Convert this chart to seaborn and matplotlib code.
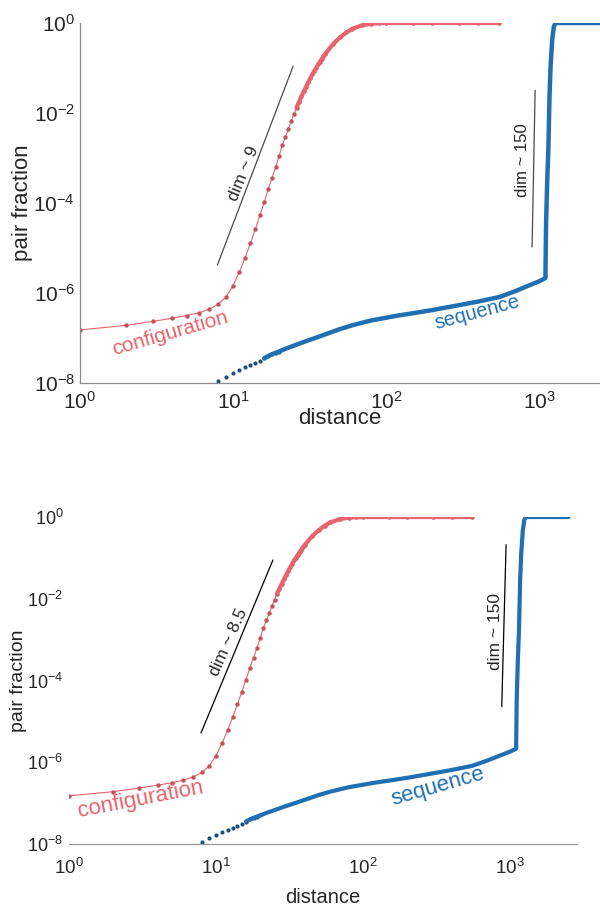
import numpy as np
import pandas as pd
import matplotlib
matplotlib.use("Agg")
import matplotlib.pyplot as plt
import matplotlib.ticker as mticker
import seaborn as sns

# === Daten ===

config_dist = list(range(1, 41)) + [45, 50, 55, 60, 70, 80, 90, 100, 150, 200, 300, 400, 550]
config_frac = [
    1.51e-7, 1.91e-7, 2.34e-7, 2.75e-7, 3.16e-7, 3.63e-7, 4.37e-7, 5.62e-7, 8.13e-7, 1.45e-6,
    2.95e-6, 6.03e-6, 1.29e-5, 2.63e-5, 5.37e-5, 1.05e-4, 2.04e-4, 3.63e-4, 6.31e-4, 1.10e-3,
    1.95e-3, 2.95e-3, 4.37e-3, 6.61e-3, 9.55e-3, 1.32e-2, 1.78e-2, 2.34e-2, 3.02e-2, 3.80e-2,
    4.79e-2, 5.89e-2, 7.24e-2, 8.71e-2, 0.102, 0.120, 0.138, 0.158, 0.182, 0.204,
    0.339, 0.479, 0.617, 0.741, 0.891, 0.966, 0.989, 0.997, 1.0, 1.0, 1.0, 1.0, 1.0,
]

seq_dist = [8, 9, 10, 11, 12, 13, 14, 15, 16, 17, 18, 19, 20, 22, 25, 30, 35, 40, 50, 60,
            70, 80, 100, 120, 150, 200, 300, 400, 550, 700, 850, 1000, 1100, 1110, 1130,
            1150, 1170, 1190, 1220, 1250, 1280, 1500, 2000, 2500]
seq_frac = [1.10e-8, 1.38e-8, 1.70e-8, 1.95e-8, 2.24e-8, 2.51e-8, 2.82e-8, 3.16e-8, 3.55e-8,
            3.98e-8, 4.37e-8, 4.68e-8, 5.01e-8, 5.75e-8, 6.76e-8, 8.51e-8, 1.02e-7, 1.20e-7,
            1.58e-7, 1.91e-7, 2.19e-7, 2.45e-7, 2.82e-7, 3.16e-7, 3.55e-7, 4.17e-7, 5.37e-7,
            6.46e-7, 8.13e-7, 1.10e-6, 1.45e-6, 1.82e-6, 2.14e-6, 3.2e-5, 3.2e-4, 1.6e-3,
            2.5e-2, 0.12, 0.45, 0.85, 1.0, 1.0, 1.0, 1.0]

# Hilfslinien (Steigung = Dimension)
guide_top_conf_x = [7.9, 24.7]
guide_top_conf_y = [4.17e-6, 0.11]
guide_top_seq_x = [900, 942]
guide_top_seq_y = [1.05e-5, 0.032]
guide_bot_conf_x = [7.9, 24.4]
guide_bot_conf_y = [5.2e-6, 0.089]
guide_bot_seq_x = [878, 940]
guide_bot_seq_y = [2.3e-5, 0.21]

y_ticks = [1e-8, 1e-6, 1e-4, 1e-2, 1e0]
x_ticks = [1e0, 1e1, 1e2, 1e3]

RED = "#e8636b"
RED_DARK = "#c4525c"
BLUE = "#1f6fb2"
BLUE_DARK = "#1b4f7e"


def draw_panel(ax, df_conf, df_seq, lw_seq=3.2):
    # configuration: dünne Linie + Punkte, ab ~25 dichter -> dicke Linie
    sns.lineplot(data=df_conf, x="distance", y="fraction", ax=ax, color=RED,
                 linewidth=0.8, marker="o", markersize=3.2, markeredgewidth=0,
                 markerfacecolor=RED_DARK, sort=False)
    sns.lineplot(data=df_conf[df_conf["distance"] >= 26], x="distance", y="fraction",
                 ax=ax, color=RED, linewidth=3.0, sort=False)
    # sequence: Punkte am Anfang, danach dicke Linie
    sns.scatterplot(data=df_seq[df_seq["distance"] <= 20], x="distance", y="fraction",
                    ax=ax, color=BLUE_DARK, s=9, linewidth=0)
    sns.lineplot(data=df_seq[df_seq["distance"] >= 16], x="distance", y="fraction",
                 ax=ax, color=BLUE, linewidth=lw_seq, sort=False)


def main():
    sns.set_style("white")
    plt.rcParams["font.family"] = ["Liberation Sans", "DejaVu Sans"]
    plt.rcParams["mathtext.default"] = "regular"

    df_conf = pd.DataFrame({"distance": config_dist, "fraction": config_frac})
    df_seq = pd.DataFrame({"distance": seq_dist, "fraction": seq_frac})

    fig = plt.figure(figsize=(6, 9.05), dpi=100)

    # ---------- oberes Panel ----------
    ax1 = fig.add_axes([0.1333, 0.5768, 0.8667, 0.3978])
    draw_panel(ax1, df_conf, df_seq)
    ax1.set_xscale("log")
    ax1.set_yscale("log")
    ax1.set_xlim(1, 2500)
    ax1.set_ylim(1e-8, 1)
    ax1.set_yticks(y_ticks)
    ax1.set_xticks(x_ticks)
    ax1.yaxis.set_minor_locator(mticker.NullLocator())
    ax1.xaxis.set_minor_locator(mticker.LogLocator(base=10, subs=np.arange(2, 10)))
    for side in ["top", "right"]:
        ax1.spines[side].set_visible(False)
    for side in ["left", "bottom"]:
        ax1.spines[side].set_color("#8c8c8c")
        ax1.spines[side].set_linewidth(0.9)
    ax1.tick_params(which="both", direction="in", color="#8c8c8c", labelcolor="#262626",
                    labelsize=15)
    ax1.tick_params(which="major", length=5)
    ax1.tick_params(which="minor", length=2.5)
    ax1.tick_params(axis="x", pad=6)
    ax1.set_xlabel("distance", fontsize=16, color="#262626", labelpad=-4)
    ax1.set_ylabel("pair fraction", fontsize=16, color="#262626", labelpad=0)

    ax1.plot(guide_top_conf_x, guide_top_conf_y, color="#4a4a4a", linewidth=0.9)
    ax1.plot(guide_top_seq_x, guide_top_seq_y, color="#4a4a4a", linewidth=0.9)
    ax1.text(11.8, 4.6e-4, "dim ~ 9", rotation=68, ha="center", va="center",
             rotation_mode="anchor", fontsize=12.5, color="#262626")
    ax1.text(774, 9.1e-4, "dim ~ 150", rotation=90, ha="center", va="center",
             rotation_mode="anchor", fontsize=12, color="#262626")
    ax1.text(3.87, 1.29e-7, "configuration", rotation=16, ha="center", va="center",
             rotation_mode="anchor", fontsize=15, color=RED)
    ax1.text(393, 3.6e-7, "sequence", rotation=15, ha="center", va="center",
             rotation_mode="anchor", fontsize=14.5, color=BLUE)

    # ---------- unteres Panel ----------
    ax2 = fig.add_axes([0.115, 0.0674, 0.8467, 0.3613])
    draw_panel(ax2, df_conf, df_seq, lw_seq=3.0)
    ax2.set_xscale("log")
    ax2.set_yscale("log")
    ax2.set_xlim(1, 2855)
    ax2.set_ylim(1e-8, 1)
    ax2.set_yticks(y_ticks)
    ax2.set_xticks(x_ticks)
    ax2.yaxis.set_minor_locator(mticker.NullLocator())
    ax2.xaxis.set_minor_locator(mticker.LogLocator(base=10, subs=np.arange(2, 10)))
    for side in ["top", "right", "left"]:
        ax2.spines[side].set_visible(False)
    ax2.spines["bottom"].set_color("#9a9a9a")
    ax2.spines["bottom"].set_linewidth(0.9)
    ax2.tick_params(axis="y", direction="out", length=3, color="#555555",
                    labelcolor="#262626", labelsize=13, pad=1)
    ax2.tick_params(axis="x", which="both", direction="inout", color="#555555",
                    labelcolor="#262626", labelsize=13.5, pad=8)
    ax2.tick_params(axis="x", which="major", length=4)
    ax2.tick_params(axis="x", which="minor", length=2)
    ax2.set_xlabel("distance", fontsize=14.5, color="#262626", labelpad=7)
    ax2.set_ylabel("pair fraction", fontsize=14, color="#262626", labelpad=0)

    ax2.plot(guide_bot_conf_x, guide_bot_conf_y, color="black", linewidth=0.9)
    ax2.plot(guide_bot_seq_x, guide_bot_seq_y, color="black", linewidth=0.9)
    ax2.text(12.1, 8.7e-4, "dim ~ 8.5", rotation=66, ha="center", va="center",
             rotation_mode="anchor", fontsize=12.5, color="#262626")
    ax2.text(791, 1.55e-3, "dim ~ 150", rotation=90, ha="center", va="center",
             rotation_mode="anchor", fontsize=12.5, color="#262626")
    ax2.text(3.09, 1.2e-7, "configuration", rotation=11, ha="center", va="center",
             rotation_mode="anchor", fontsize=16, color=RED)
    ax2.text(324, 2.5e-7, "sequence", rotation=16, ha="center", va="center",
             rotation_mode="anchor", fontsize=16, color=BLUE)

    fig.savefig("out.png", dpi=100)


if __name__ == "__main__":
    main()
